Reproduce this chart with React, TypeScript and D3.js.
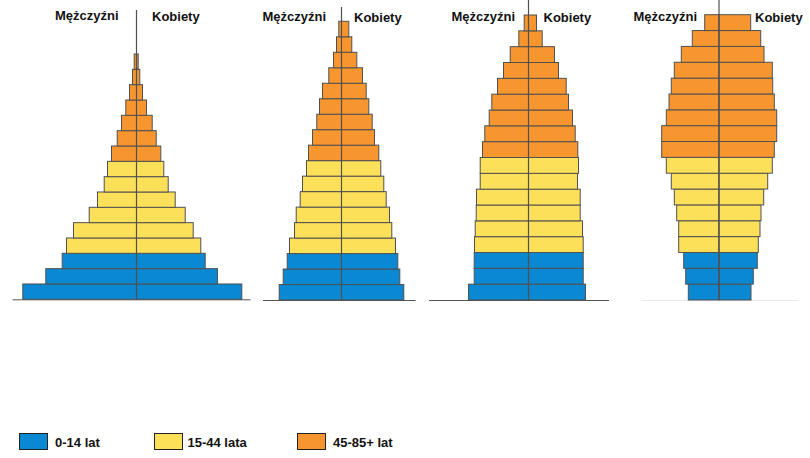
import React from "react";
import * as d3 from "d3";

// Half-widths of each age bar (bottom → top), men and women, per pyramid
const p1Men = [113.7, 90.7, 74.3, 70, 63, 47.3, 39, 32.3, 29, 25, 19.3, 15, 10.7, 7, 4, 2.3];
const p1Women = [105.3, 81, 68.7, 64.3, 56.7, 48.7, 38.7, 31.7, 27.3, 24.3, 19.7, 15.7, 10, 6, 3.3, 1.7];

const p2Men = [62.3, 58.3, 54.3, 52, 47, 45.3, 41.3, 39, 35, 33, 29, 24.7, 22, 19, 12.7, 8, 5, 2.7];
const p2Women = [62.3, 58.3, 56.3, 54, 50.3, 48, 44.7, 42.3, 39.3, 37.3, 33, 30.7, 27.3, 24.7, 21, 15.3, 10.3, 7.3];

const p3Men = [60, 54.3, 54.3, 54, 53.3, 52.3, 52, 48.3, 48.3, 46, 43.7, 39.3, 36.7, 31, 25, 18.3, 9.7, 4.3];
const p3Women = [57, 54.7, 54.7, 54.7, 54, 51.7, 51.7, 49, 50, 49.3, 46.7, 44, 40, 37.7, 30, 26, 13.7, 8];

const p4Men = [30.7, 33.3, 35.3, 40.3, 40.3, 42.3, 44.7, 47.7, 52.7, 57.3, 57.3, 52.7, 50, 47.7, 44.7, 37.7, 26.7, 14.3];
const p4Women = [32, 34.3, 38.3, 39.3, 41, 42, 44.7, 48.7, 53.3, 55.3, 57.7, 57.7, 55.3, 53.7, 53.3, 45, 41.7, 31.7];

const groupNames = ["0-14 lat", "15-44 lata", "45-85+ lat"];
const groupColors = ["#0a88d2", "#fde05a", "#f7962f"];
const menLabel = "Mężczyźni";
const womenLabel = "Kobiety";

const ageGroup = (i: number) => (i < 3 ? 0 : i < 9 ? 1 : 2);

type Pyr = {
  men: number[];
  women: number[];
  cx: number;
  top: number;
  bottom: number;
  axisTop: number;
  base: [number, number] | null;
  baseColor: string;
  menX: number;
  womenX: number;
  menY: number;
  womenY: number;
};

const pyramids: Pyr[] = [
  { men: p1Men, women: p1Women, cx: 136.5, top: 54, bottom: 299.3, axisTop: 10, base: [12.5, 250.5], baseColor: "#555", menX: 55, womenX: 152, menY: 20, womenY: 21 },
  { men: p2Men, women: p2Women, cx: 341.5, top: 21.3, bottom: 300, axisTop: 7, base: [263, 415.5], baseColor: "#555", menX: 262.5, womenX: 354, menY: 21, womenY: 22 },
  { men: p3Men, women: p3Women, cx: 528.5, top: 15, bottom: 300, axisTop: 0, base: [429, 609], baseColor: "#555", menX: 451.5, womenX: 543.5, menY: 21, womenY: 22 },
  { men: p4Men, women: p4Women, cx: 719, top: 14.7, bottom: 300, axisTop: 0, base: [642, 798], baseColor: "#e8e8e8", menX: 633.5, womenX: 755, menY: 21, womenY: 22 },
];

const x = d3.scaleLinear().domain([0, 100]).range([0, 100]);

function Pyramid({ p }: { p: Pyr }) {
  const y = d3
    .scaleBand<number>()
    .domain(d3.range(p.men.length))
    .range([p.bottom, p.top])
    .paddingInner(0);
  const bw = y.bandwidth();
  return (
    <g>
      {p.base && (
        <line x1={p.base[0]} x2={p.base[1]} y1={p.bottom + 0.5} y2={p.bottom + 0.5} stroke={p.baseColor} strokeWidth={1} />
      )}
      {p.men.map((v, i) => (
        <rect key={"m" + i} x={p.cx - x(v)} y={y(i)!} width={x(v)} height={bw} fill={groupColors[ageGroup(i)]} stroke="#505050" strokeWidth={1} />
      ))}
      {p.women.map((v, i) => (
        <rect key={"w" + i} x={p.cx} y={y(i)!} width={x(v)} height={bw} fill={groupColors[ageGroup(i)]} stroke="#505050" strokeWidth={1} />
      ))}
      <line x1={p.cx} x2={p.cx} y1={p.axisTop} y2={p.bottom} stroke="#505050" strokeWidth={1.2} />
      <text x={p.menX} y={p.menY} fontSize={13} fontWeight="bold" fill="#111">{menLabel}</text>
      <text x={p.womenX} y={p.womenY} fontSize={13} fontWeight="bold" fill="#111">{womenLabel}</text>
    </g>
  );
}

const legendX = [19.5, 154.5, 297.5];
const legendTextX = [55, 187.5, 333];

export default function App() {
  return (
    <svg
      width={810}
      height={458}
      style={{ position: "absolute", left: 0, top: 0, background: "#fff", fontFamily: "'Liberation Sans', Arial, sans-serif" }}
    >
      {pyramids.map((p, i) => (
        <Pyramid key={i} p={p} />
      ))}
      {groupNames.map((n, i) => (
        <g key={n}>
          <rect x={legendX[i]} y={433.5} width={28} height={16} fill={groupColors[i]} stroke="#222" strokeWidth={1} />
          <text x={legendTextX[i]} y={447} fontSize={13} fontWeight="bold" fill="#111">{n}</text>
        </g>
      ))}
    </svg>
  );
}
